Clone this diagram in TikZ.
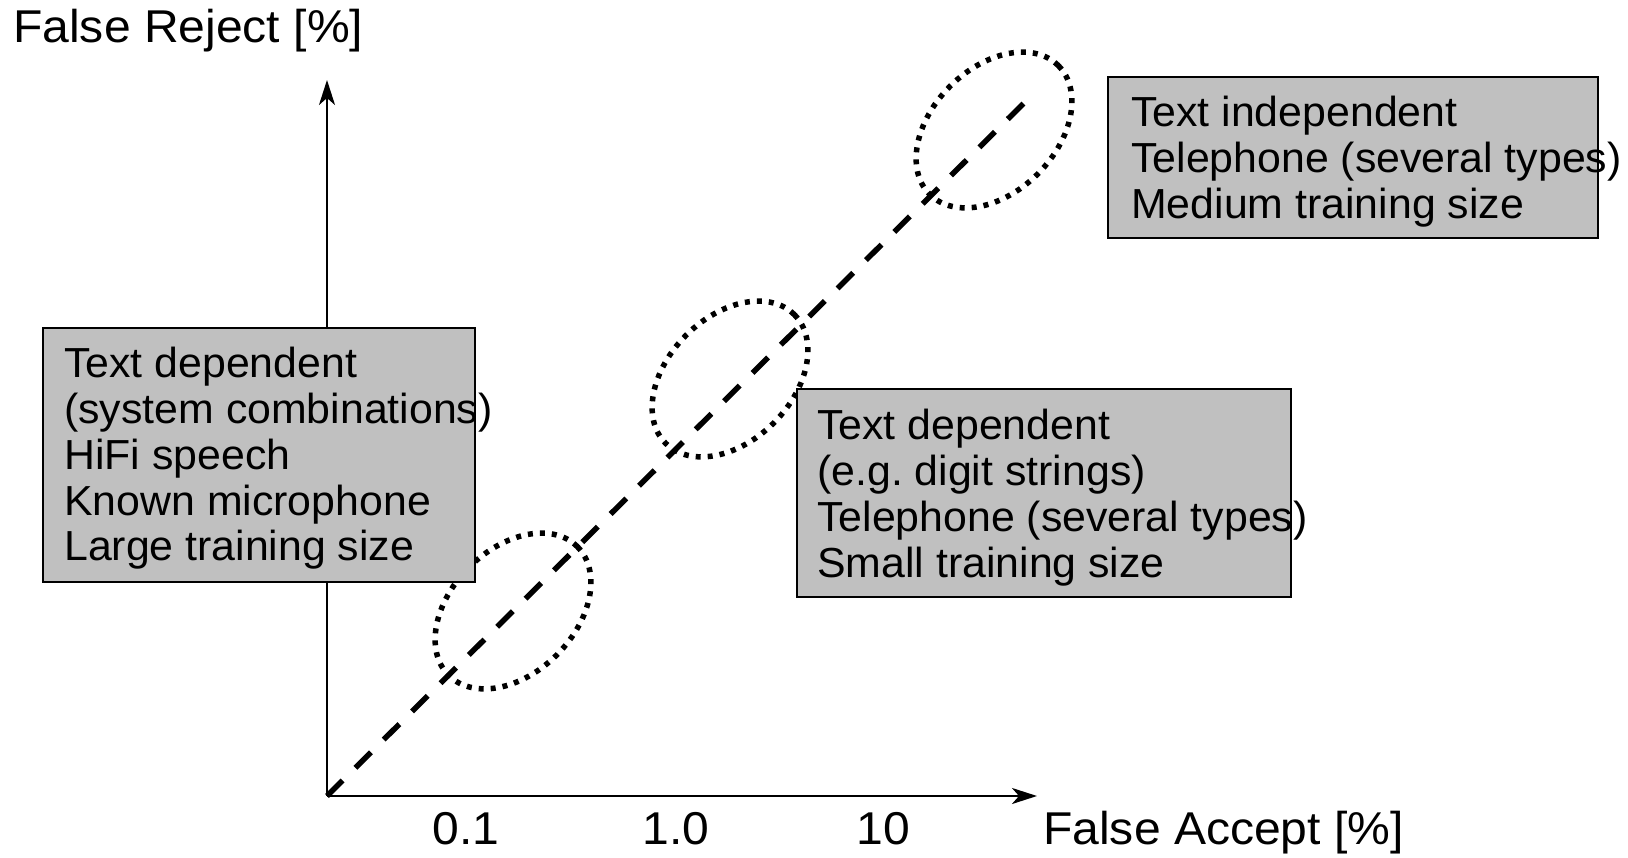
\documentclass[tikz,border=0pt]{standalone}
\usepackage{fontspec}
\setmainfont{Liberation Sans}
\newfontfamily\boxfont[FakeStretch=1.02]{Liberation Sans}
\newfontfamily\labelfont[FakeStretch=1.045]{Liberation Sans}
\usetikzlibrary{arrows.meta}
\definecolor{boxfill}{RGB}{192,192,192}
\frenchspacing

\begin{document}
\begin{tikzpicture}[x=1pt,y=-1pt,
  axisline/.style={line width=2.5pt, -{Stealth[length=25pt,width=16pt,inset=7pt]}},
  trend/.style={line width=5.5pt, dash pattern=on 22pt off 18pt},
  cluster/.style={line width=5.5pt, dash pattern=on 5pt off 7pt},
  infobox/.style={draw, line width=2.5pt, fill=boxfill, rectangle, inner sep=0pt, outer sep=0pt},
  infotext/.style={anchor=north west, inner sep=0pt, align=left,
    font=\boxfont\fontsize{42}{45.8}\selectfont},
  axislabel/.style={anchor=base west, inner sep=0pt, font=\labelfont\fontsize{46}{50}\selectfont},
  ticklabel/.style={anchor=base, inner sep=0pt, font=\labelfont\fontsize{46}{50}\selectfont}]

\useasboundingbox (0,0) rectangle (1628,858);

% axes
\coordinate (O) at (327,796);
\coordinate (ytip) at (327,80);
\coordinate (xtip) at (1037,796);
\draw[axisline] (O) -- (ytip);
\draw[axisline] (O) -- (xtip);

% operating-point clusters
\coordinate (c1) at (994,130);
\coordinate (c2) at (730,379);
\coordinate (c3) at (513,611);
\foreach \c in {c1,c2,c3}
  \draw[cluster, shift={(\c)}, rotate=45] (0,0) ellipse [x radius=91, y radius=62];

% trend line
\coordinate (tend) at (1030,97);
\draw[trend] (O) -- (tend);

% condition boxes
\node[infobox, minimum width=490pt, minimum height=161pt] (boxA) at (1353,157.5) {};
\node[infobox, minimum width=432pt, minimum height=254pt] (boxB) at (259,455) {};
\node[infobox, minimum width=494pt, minimum height=208pt] (boxC) at (1044,493) {};

\node[infotext] (txtA) at (1131,96) {Text independent\\Telephone (several types)\\Medium training size};
\node[infotext] (txtB) at (64,347) {Text dependent\\(system combinations)\\HiFi speech\\Known microphone\\Large training size};
\node[infotext] (txtC) at (817,409) {Text dependent\\(e.g. digit strings)\\Telephone (several types)\\Small training size};

% axis labels and ticks
\node[axislabel] (ylab) at (13,43) {False Reject [\%]};
\node[axislabel] (xlab) at (1043,844) {False Accept [\%]};
\node[ticklabel] (t1) at (466,844) {0.1};
\node[ticklabel] (t2) at (676,844) {1.0};
\node[ticklabel] (t3) at (883,844) {10};
\end{tikzpicture}
\end{document}
